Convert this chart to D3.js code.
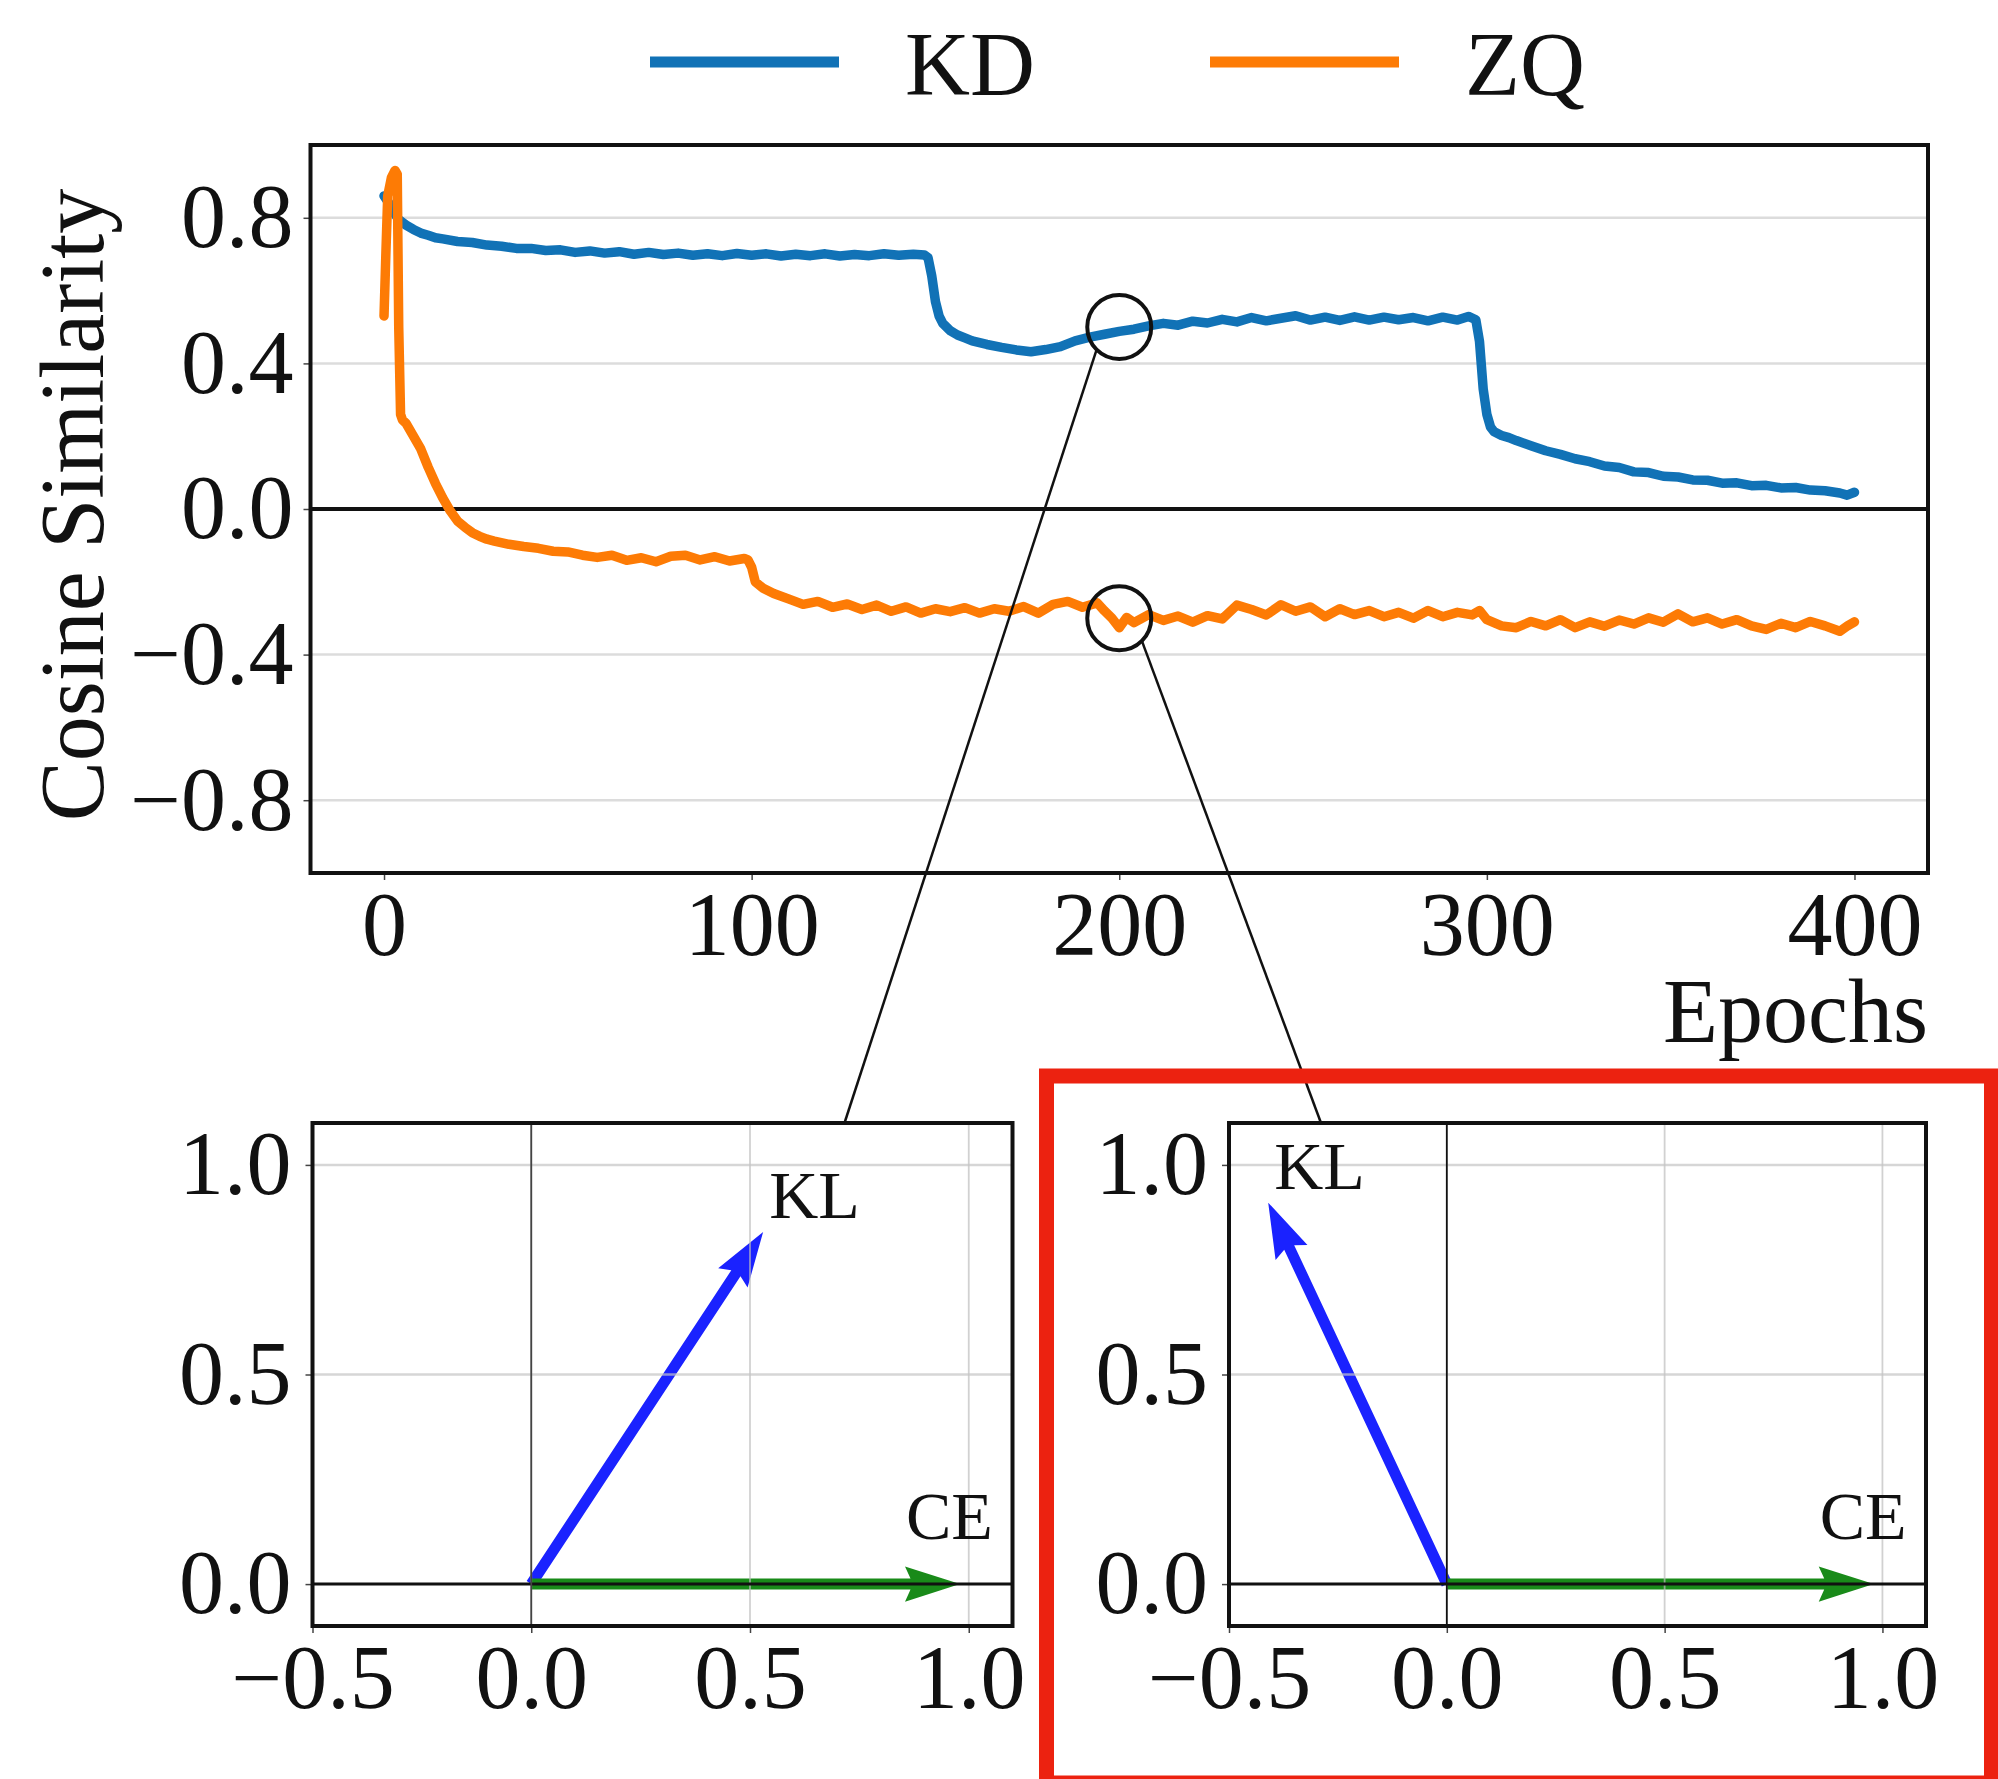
<!DOCTYPE html>
<html>
<head>
<meta charset="utf-8">
<script src="https://cdn.jsdelivr.net/npm/d3@7"></script>
<style>
  html, body { margin: 0; padding: 0; background: #fff; }
  svg text { font-family: "Liberation Serif", "Times New Roman", serif; fill: #111; }
</style>
</head>
<body>
<div id="chart"></div>
<script>
// ---- data ----
var kdEpochs = [0,1,2,3,4,6,8,10,12,14,16,20,24,28,32,36,40,44,48,52,56,60,64,68,72,76,80,84,88,92,96,
  100,104,108,112,116,120,124,128,132,136,140,144,147,148,149,150,151,152,154,156,158,160,164,168,172,176,
  180,184,188,192,196,200,204,208,212,216,220,224,228,232,236,240,244,248,252,256,260,264,268,272,276,280,
  284,288,292,295,297,298,299,300,301,302,304,306,308,312,316,320,324,328,332,336,340,344,348,352,356,360,
  364,368,372,376,380,384,388,392,396,398,400];
var kdValues = [0.86,0.845,0.83,0.81,0.795,0.78,0.768,0.758,0.752,0.745,0.742,0.735,0.732,0.725,0.722,0.716,
  0.716,0.710,0.712,0.705,0.709,0.703,0.707,0.700,0.705,0.699,0.703,0.697,0.701,0.696,0.702,
  0.697,0.701,0.695,0.700,0.696,0.701,0.695,0.699,0.696,0.701,0.697,0.700,0.698,0.69,0.64,0.57,0.53,0.51,
  0.49,0.478,0.47,0.462,0.452,0.444,0.437,0.432,
  0.438,0.446,0.462,0.472,0.48,0.488,0.494,0.503,0.51,0.505,0.516,0.511,0.521,0.514,0.526,0.517,0.524,0.531,
  0.519,0.527,0.518,0.528,0.519,0.527,0.52,0.526,
  0.517,0.527,0.519,0.529,0.52,0.46,0.33,0.26,0.225,0.212,0.202,0.196,0.188,0.174,0.16,0.15,0.138,0.13,0.118,
  0.114,0.102,0.1,0.09,0.088,0.08,0.079,
  0.071,0.072,0.064,0.065,0.058,0.059,0.052,0.05,0.044,0.038,0.046];

var zqEpochs = [0,0.5,1,2,3,3.6,4,4.5,5,6,8,10,12,14,16,18,20,22,24,26,28,30,34,38,42,46,50,54,58,62,66,70,
  74,78,82,86,90,94,98,99,100,101,103,106,110,114,118,122,126,130,134,138,142,146,150,154,158,162,166,170,
  174,178,182,186,190,194,196,198,200,202,204,208,212,216,220,224,228,232,236,240,244,248,252,256,260,264,
  268,272,276,280,284,288,292,296,298,300,304,308,312,316,320,324,328,332,336,340,344,348,352,356,360,364,
  368,372,376,380,384,388,392,396,398,400];
var zqValues = [0.53,0.70,0.86,0.91,0.93,0.92,0.5,0.26,0.245,0.235,0.2,0.165,0.115,0.07,0.03,-0.005,-0.033,
  -0.05,-0.065,-0.075,-0.083,-0.088,-0.097,-0.103,-0.108,-0.116,-0.118,-0.127,-0.133,-0.127,-0.141,-0.134,
  -0.145,-0.13,-0.127,-0.14,-0.131,-0.143,-0.136,-0.14,-0.16,-0.2,-0.217,-0.232,-0.247,-0.262,-0.254,-0.27,
  -0.261,-0.276,-0.264,-0.281,-0.269,-0.286,-0.274,-0.282,-0.271,-0.286,-0.274,-0.281,
  -0.268,-0.286,-0.262,-0.254,-0.27,-0.258,-0.28,-0.3,-0.326,-0.298,-0.312,-0.29,-0.306,-0.294,-0.311,-0.293,
  -0.302,-0.264,-0.276,-0.291,-0.263,-0.281,-0.269,-0.296,-0.274,-0.29,
  -0.279,-0.296,-0.284,-0.3,-0.279,-0.296,-0.284,-0.291,-0.279,-0.304,-0.321,-0.326,-0.309,-0.321,-0.304,
  -0.326,-0.31,-0.322,-0.305,-0.316,-0.299,-0.311,-0.288,-0.31,-0.299,-0.316,
  -0.304,-0.321,-0.331,-0.314,-0.326,-0.309,-0.321,-0.336,-0.322,-0.31];

var seriesNames = ["KD", "ZQ"];
var seriesColors = ["#1172b6", "#fd7b05"];

var mainXTicks = [0, 100, 200, 300, 400];
var mainYTicks = [-0.8, -0.4, 0.0, 0.4, 0.8];

// highlighted points (epoch, cosine) -> insets
var markEpochs = [200, 200];
var markValues = [0.50, -0.30];

// gradient vectors shown in the two insets
var klVectors = [[0.53, 0.84], [-0.41, 0.91]];
var ceVectors = [[0.98, 0.0], [0.98, 0.0]];
var vectorNames = ["KL", "CE"];
var vectorColors = ["#1a22ff", "#198a19"];

var insetXTicks = [-0.5, 0.0, 0.5, 1.0];
var insetYTicks = [0.0, 0.5, 1.0];

// ---- layout ----
var W = 1998, H = 1779;
var FS = 90;

var svg = d3.select("#chart").append("svg")
    .attr("width", W)
    .attr("height", H)
    .style("display", "block");

svg.append("rect").attr("width", W).attr("height", H).attr("fill", "#fff");

var mainBox = {left: 310.5, right: 1928, top: 145, bottom: 873};

var x = d3.scaleLinear().domain([-20, 420]).range([mainBox.left, mainBox.right]);
var y = d3.scaleLinear().domain([-1, 1]).range([mainBox.bottom, mainBox.top]);

var mainG = svg.append("g");

// horizontal grid
mainG.selectAll(".hgrid").data(mainYTicks.filter(function (t) { return t !== 0; }))
    .enter().append("line")
    .attr("x1", mainBox.left).attr("x2", mainBox.right)
    .attr("y1", function (d) { return y(d); })
    .attr("y2", function (d) { return y(d); })
    .attr("stroke", "#dcdcdc")
    .attr("stroke-width", 2.5);

// zero line
mainG.append("line")
    .attr("x1", mainBox.left).attr("x2", mainBox.right)
    .attr("y1", y(0)).attr("y2", y(0))
    .attr("stroke", "#111").attr("stroke-width", 4);

// axes
var xAxis = d3.axisBottom(x).tickValues(mainXTicks).tickFormat(d3.format("d"))
    .tickSize(7).tickPadding(11);
var yAxis = d3.axisLeft(y).tickValues(mainYTicks).tickFormat(d3.format(".1f"))
    .tickSize(7).tickPadding(10);

function styleAxis(g) {
    g.select(".domain").remove();
    g.selectAll(".tick line").attr("stroke", "#444").attr("stroke-width", 1.5);
    g.selectAll(".tick text")
        .style("font-family", '"Liberation Serif", serif')
        .style("font-size", FS + "px")
        .attr("fill", "#111");
}

mainG.append("g").attr("transform", "translate(0," + mainBox.bottom + ")").call(xAxis).call(styleAxis);
mainG.append("g").attr("transform", "translate(" + mainBox.left + ",0)").call(yAxis).call(styleAxis);

// clip for data lines
svg.append("clipPath").attr("id", "mainClip")
    .append("rect")
    .attr("x", mainBox.left).attr("y", mainBox.top)
    .attr("width", mainBox.right - mainBox.left).attr("height", mainBox.bottom - mainBox.top);

var line = d3.line()
    .x(function (d) { return x(d[0]); })
    .y(function (d) { return y(d[1]); });

var series = [
    d3.zip(kdEpochs, kdValues),
    d3.zip(zqEpochs, zqValues)
];

mainG.selectAll(".series").data(series)
    .enter().append("path")
    .attr("clip-path", "url(#mainClip)")
    .attr("d", line)
    .attr("fill", "none")
    .attr("stroke", function (d, i) { return seriesColors[i]; })
    .attr("stroke-width", 9.5)
    .attr("stroke-linejoin", "round")
    .attr("stroke-linecap", "round");

// frame
mainG.append("rect")
    .attr("x", mainBox.left).attr("y", mainBox.top)
    .attr("width", mainBox.right - mainBox.left).attr("height", mainBox.bottom - mainBox.top)
    .attr("fill", "none").attr("stroke", "#111").attr("stroke-width", 4);

// axis labels
mainG.append("text")
    .attr("x", mainBox.right).attr("y", 1042)
    .attr("text-anchor", "end")
    .style("font-size", FS + "px")
    .text("Epochs");

mainG.append("text")
    .attr("transform", "translate(103," + ((mainBox.top + mainBox.bottom) / 2 - 4) + ") rotate(-90)")
    .attr("text-anchor", "middle")
    .style("font-size", FS + "px")
    .text("Cosine Similarity");

// legend
var legendX = [650, 1210];
var legend = svg.selectAll(".legend").data(seriesNames)
    .enter().append("g")
    .attr("transform", function (d, i) { return "translate(" + legendX[i] + ",62)"; });
legend.append("line")
    .attr("x1", 0).attr("x2", 189)
    .attr("stroke", function (d, i) { return seriesColors[i]; })
    .attr("stroke-width", 11);
legend.append("text")
    .attr("x", 255).attr("y", 33)
    .style("font-size", FS + "px")
    .text(function (d) { return d; });

// ---- insets ----
var insets = [
    {left: 312.5, right: 1012.5, top: 1123, bottom: 1626, anchor: 0.76},
    {left: 1229, right: 1926, top: 1123, bottom: 1626, anchor: 0.132}
];

function drawArrow(g, sx, sy, v, color) {
    var ox = sx(0), oy = sy(0), tx = sx(v[0]), ty = sy(v[1]);
    var dx = tx - ox, dy = ty - oy, L = Math.sqrt(dx * dx + dy * dy);
    var ux = dx / L, uy = dy / L, nx = -uy, ny = ux;
    var w = 11, hw = 1.6 * w, hl = 5 * w, hal = 4.5 * w;
    var pts = [
        [ox + nx * w / 2, oy + ny * w / 2],
        [tx - ux * hal + nx * w / 2, ty - uy * hal + ny * w / 2],
        [tx - ux * hl + nx * hw, ty - uy * hl + ny * hw],
        [tx, ty],
        [tx - ux * hl - nx * hw, ty - uy * hl - ny * hw],
        [tx - ux * hal - nx * w / 2, ty - uy * hal - ny * w / 2],
        [ox - nx * w / 2, oy - ny * w / 2]
    ];
    g.append("path")
        .attr("d", "M" + pts.map(function (p) { return p[0] + "," + p[1]; }).join("L") + "Z")
        .attr("fill", color);
}

insets.forEach(function (b, k) {
    var sx = d3.scaleLinear().domain([-0.5, 1.1]).range([b.left, b.right]);
    var sy = d3.scaleLinear().domain([-0.1, 1.1]).range([b.bottom, b.top]);
    var g = svg.append("g");

    drawArrow(g, sx, sy, klVectors[k], vectorColors[0]);
    drawArrow(g, sx, sy, ceVectors[k], vectorColors[1]);

    // grid on top, like the original
    g.selectAll(".vg").data(insetXTicks).enter().append("line")
        .attr("x1", function (d) { return sx(d); }).attr("x2", function (d) { return sx(d); })
        .attr("y1", b.top).attr("y2", b.bottom)
        .attr("stroke", "#bdbdbd").attr("stroke-width", 1.8).attr("stroke-opacity", 0.7);
    g.selectAll(".hg").data(insetYTicks.filter(function (t) { return t !== 0; })).enter().append("line")
        .attr("x1", b.left).attr("x2", b.right)
        .attr("y1", function (d) { return sy(d); }).attr("y2", function (d) { return sy(d); })
        .attr("stroke", "#c4c4c4").attr("stroke-width", 2.5).attr("stroke-opacity", 0.7);

    g.append("line")
        .attr("x1", b.left).attr("x2", b.right)
        .attr("y1", sy(0)).attr("y2", sy(0))
        .attr("stroke", "#111").attr("stroke-width", 3);
    g.append("line")
        .attr("x1", sx(0)).attr("x2", sx(0))
        .attr("y1", b.top).attr("y2", b.bottom)
        .attr("stroke", k === 0 ? "#444" : "#111").attr("stroke-width", 1.8);

    // labels at arrow tips
    var kl = klVectors[k], ce = ceVectors[k];
    g.append("text")
        .attr("x", sx(kl[0]) + 6).attr("y", sy(kl[1]) - 14)
        .style("font-size", "68px")
        .text(vectorNames[0]);
    g.append("text")
        .attr("x", sx(ce[0]) - 54).attr("y", sy(ce[1]) - 45)
        .style("font-size", "68px")
        .text(vectorNames[1]);

    var ax = d3.axisBottom(sx).tickValues(insetXTicks).tickFormat(d3.format(".1f"))
        .tickSize(7).tickPadding(11);
    var ay = d3.axisLeft(sy).tickValues(insetYTicks).tickFormat(d3.format(".1f"))
        .tickSize(7).tickPadding(14);
    g.append("g").attr("transform", "translate(0," + b.bottom + ")").call(ax).call(styleAxis);
    g.append("g").attr("transform", "translate(" + b.left + ",0)").call(ay).call(styleAxis);

    g.append("rect")
        .attr("x", b.left).attr("y", b.top)
        .attr("width", b.right - b.left).attr("height", b.bottom - b.top)
        .attr("fill", "none").attr("stroke", "#111").attr("stroke-width", 4);
});

// ---- circles and connectors ----
var R = 32;
var connectAngles = [135, 45];
markEpochs.forEach(function (e, k) {
    var cx = x(e), cy = y(markValues[k]);
    svg.append("circle")
        .attr("cx", cx).attr("cy", cy).attr("r", R)
        .attr("fill", "none").attr("stroke", "#111").attr("stroke-width", 4);
    var a = connectAngles[k] * Math.PI / 180;
    var b = insets[k];
    svg.append("line")
        .attr("x1", cx + R * Math.cos(a)).attr("y1", cy + R * Math.sin(a))
        .attr("x2", b.left + b.anchor * (b.right - b.left)).attr("y2", b.top)
        .attr("stroke", "#111").attr("stroke-width", 2.5);
});

// red highlight box round the right inset
svg.append("rect")
    .attr("x", 1046.5).attr("y", 1076)
    .attr("width", 945).attr("height", 707)
    .attr("fill", "none")
    .attr("stroke", "#ec2210")
    .attr("stroke-width", 15);
</script>
</body>
</html>
